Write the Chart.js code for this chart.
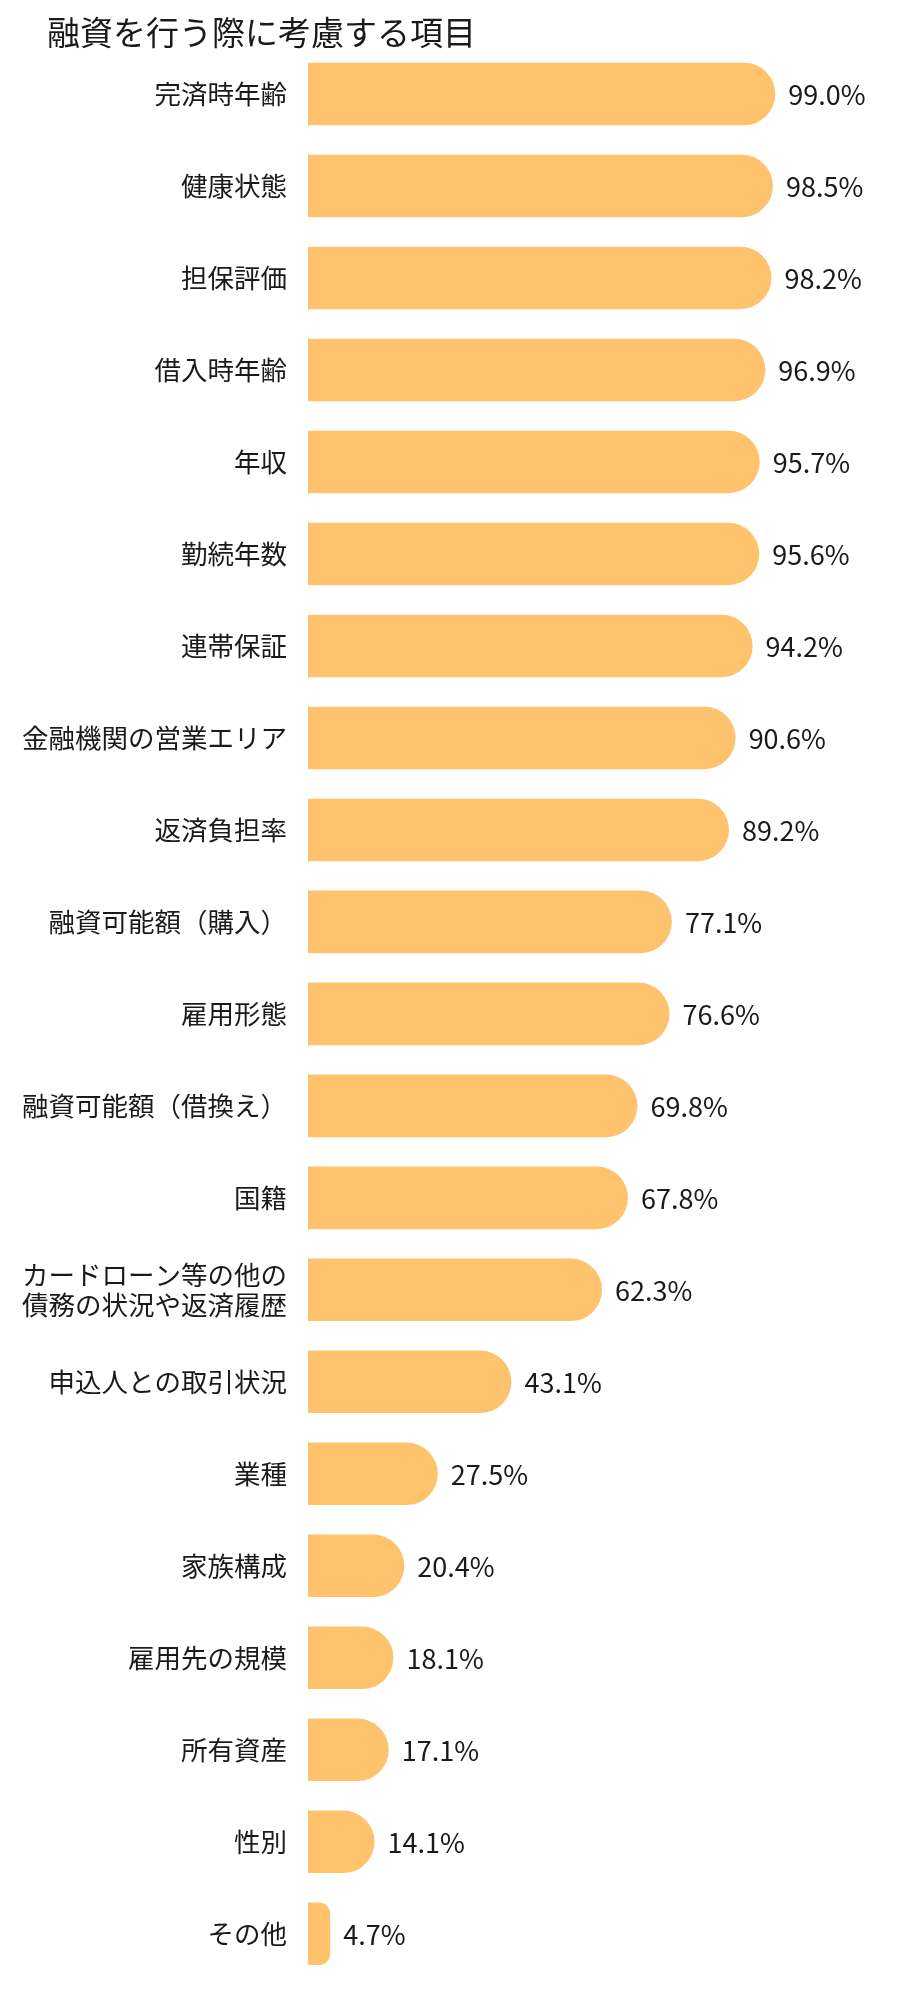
<!DOCTYPE html>
<html lang="ja">
<head>
<meta charset="utf-8">
<script src="https://cdn.jsdelivr.net/npm/chart.js@4.4.1/dist/chart.umd.min.js"></script>
<style>
  html, body { margin: 0; padding: 0; background: #fff; overflow: hidden; }
  #wrap { position: relative; width: 900px; height: 2016px; }
  #title { position: absolute; left: 47px; top: 10px; margin: 0; font: 400 33px "Noto Sans CJK JP", sans-serif; color: #1a1a1a; line-height: 42px; white-space: nowrap; }
</style>
</head>
<body>
<div id="wrap">
  <canvas id="c" width="900" height="2016"></canvas>
  <h1 id="title">融資を行う際に考慮する項目</h1>
</div>
<script>
const categories = [
  "完済時年齢",
  "健康状態",
  "担保評価",
  "借入時年齢",
  "年収",
  "勤続年数",
  "連帯保証",
  "金融機関の営業エリア",
  "返済負担率",
  "融資可能額（購入）",
  "雇用形態",
  "融資可能額（借換え）",
  "国籍",
  ["カードローン等の他の", "債務の状況や返済履歴"],
  "申込人との取引状況",
  "業種",
  "家族構成",
  "雇用先の規模",
  "所有資産",
  "性別",
  "その他"
];
const values = [99.0, 98.5, 98.2, 96.9, 95.7, 95.6, 94.2, 90.6, 89.2, 77.1, 76.6, 69.8, 67.8, 62.3, 43.1, 27.5, 20.4, 18.1, 17.1, 14.1, 4.7];

const FONT = '"Noto Sans CJK JP", sans-serif';

const valueLabels = {
  id: 'valueLabels',
  afterDatasetsDraw(chart) {
    const ctx = chart.ctx;
    const meta = chart.getDatasetMeta(0);
    ctx.save();
    ctx.font = '400 27px ' + FONT;
    ctx.fillStyle = '#1a1a1a';
    ctx.textAlign = 'left';
    ctx.textBaseline = 'middle';
    meta.data.forEach((bar, i) => {
      const v = chart.data.datasets[0].data[i];
      ctx.fillText(v.toFixed(1) + '%', bar.x + 13, bar.y + 1);
    });
    ctx.restore();
  }
};

new Chart(document.getElementById('c'), {
  type: 'bar',
  data: {
    labels: categories,
    datasets: [{
      data: values,
      backgroundColor: '#FEC36C',
      borderWidth: 0,
      borderRadius: 32,
      borderSkipped: 'start',
      barPercentage: 0.68,
      categoryPercentage: 1.0
    }]
  },
  options: {
    indexAxis: 'y',
    responsive: false,
    animation: false,
    devicePixelRatio: 1,
    layout: { padding: { top: 48, right: 120, bottom: 1, left: 0 } },
    plugins: {
      legend: { display: false },
      tooltip: { enabled: false },
      title: { display: false }
    },
    scales: {
      x: {
        display: false,
        min: 0,
        max: 100
      },
      y: {
        afterFit(scale) { scale.width = 308; },
        grid: { display: false, drawTicks: false },
        border: { display: false },
        ticks: {
          padding: 21,
          color: '#1a1a1a',
          font: { family: FONT, size: 26.5, lineHeight: 1.15 }
        }
      }
    }
  },
  plugins: [valueLabels]
});
</script>
</body>
</html>
